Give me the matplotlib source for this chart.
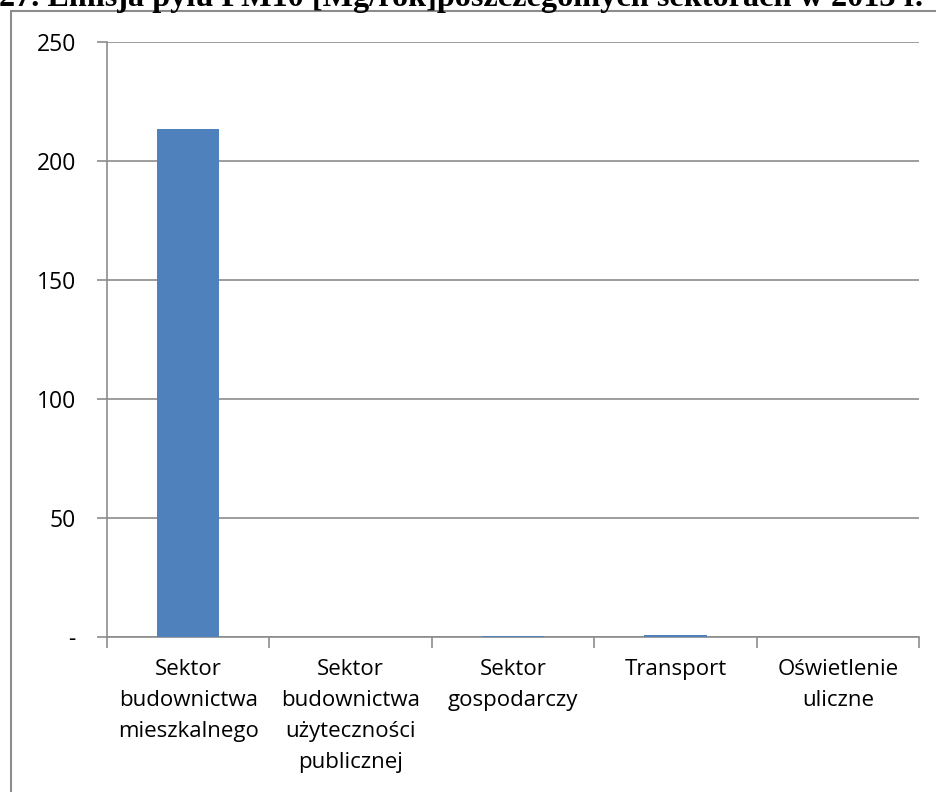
import matplotlib.pyplot as plt
from matplotlib.patches import Rectangle

# Emisja pyłu PM10 w sektorach, 2013 r. [Mg/rok]
categories = [
    "Sektor\nbudownictwa\nmieszkalnego",
    "Sektor\nbudownictwa\nużyteczności\npublicznej",
    "Sektor\ngospodarczy",
    "Transport",
    "Oświetlenie\nuliczne",
]
values = [213.5, 0.15, 0.6, 0.9, 0.05]
yticks = [0, 50, 100, 150, 200, 250]
ytick_labels = ["-", "50", "100", "150", "200", "250"]

W, H = 936, 792
fig = plt.figure(figsize=(W / 100, H / 100), dpi=100)

# outer chart frame
fig.patches.append(Rectangle((11 / W, -0.01), 1.0, (H - 11) / H + 0.01,
                             transform=fig.transFigure, fill=False,
                             edgecolor="#8c8c8c", linewidth=1.5))

# heading, partly cut off at the top of the page
fig.text(-1 / W, 1 - 6 / H,
         "27. Emisja pyłu PM10 [Mg/rok]poszczególnych sektorach w 2013 r.",
         family="Liberation Serif", fontweight="bold", fontsize=23.2,
         ha="left", va="baseline")

ax = fig.add_axes([107 / W, 1 - 637 / H, (919 - 107) / W, (637 - 42) / H])
x = range(len(categories))
ax.bar(x, values, width=0.385, color="#4f81bd", zorder=3)

ax.set_xlim(-0.5, len(categories) - 0.5)
ax.set_ylim(0, 250)
ax.set_yticks(yticks)
ax.set_yticklabels(ytick_labels, family="Open Sans", fontsize=16.5)
ax.set_xticks(x)
ax.set_xticklabels(categories, family="Open Sans", fontsize=16, linespacing=1.62)
ax.tick_params(axis="x", length=0, pad=16)
ax.tick_params(axis="y", length=7.5, width=1.2, color="#8c8c8c", pad=15)

# category boundary ticks below the axis
ax.set_xticks([i - 0.5 for i in range(len(categories) + 1)], minor=True)
ax.tick_params(axis="x", which="minor", length=8, width=1.2, color="#8c8c8c")

ax.grid(axis="y", color="#8c8c8c", linewidth=1.2, zorder=0)
for side in ("top", "right"):
    ax.spines[side].set_visible(False)
for side in ("left", "bottom"):
    ax.spines[side].set_color("#8c8c8c")
    ax.spines[side].set_linewidth(1.2)

fig.savefig("out.png", dpi=100)
